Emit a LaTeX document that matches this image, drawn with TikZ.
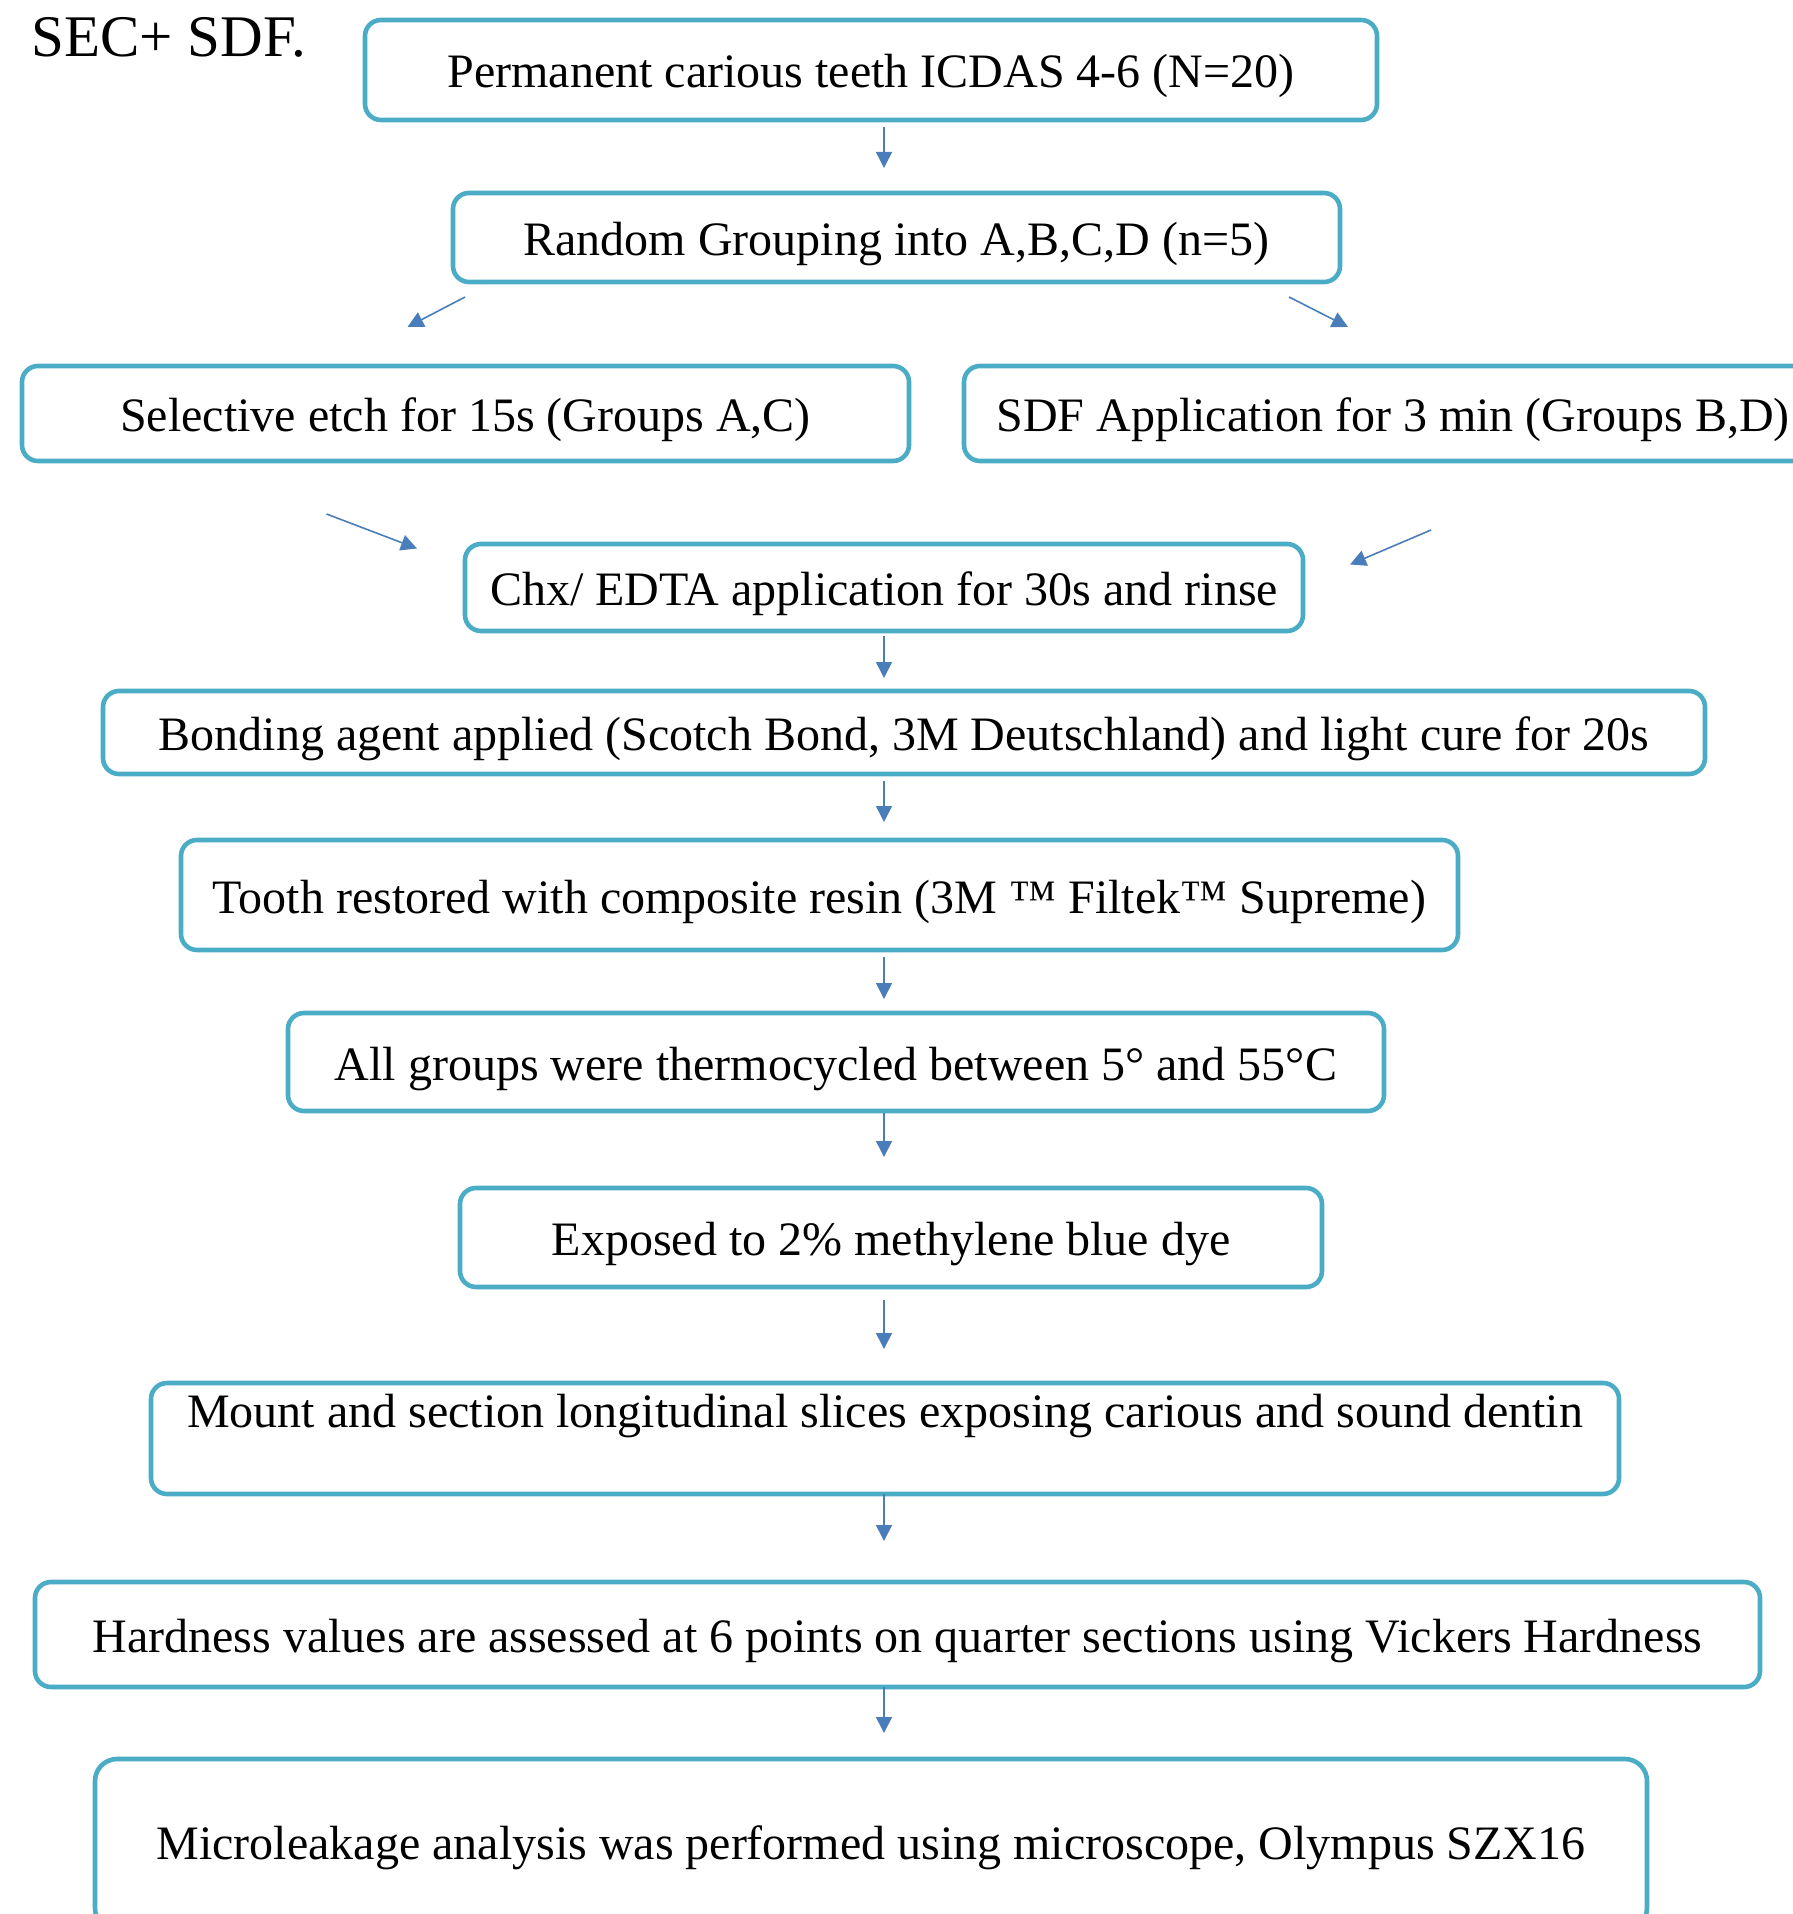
\documentclass[tikz,border=0pt]{standalone}
\usepackage{fontspec}
\setmainfont{Liberation Serif}
\usetikzlibrary{arrows.meta}

\definecolor{boxblue}{HTML}{4BACC6}
\definecolor{arrowblue}{HTML}{4A7EBB}

\tikzset{
  stage/.style={draw=boxblue, line width=2.3pt, rounded corners=8pt, fill=white,
    inner sep=0pt, outer sep=0pt, text height=20pt, text depth=2pt,
    font=\fontsize{24}{29}\selectfont},
  flow/.style={draw=arrowblue, line width=0.8pt, -{Triangle[width=8pt,length=8pt]}}
}

\begin{document}
\begin{tikzpicture}[x=0.5pt, y=-0.5pt]

	\useasboundingbox (0,0) rectangle (1792,1914);

	% Spine of the vertical arrows
	\coordinate (spine) at (884,0);

	% Title
	\node[anchor=base west, inner sep=0pt, font=\fontsize{29.5}{35}\selectfont] (title) at (31,57) {SEC+ SDF.};

	% Boxes
	\node[stage, minimum width=506pt, minimum height=50pt] (perm) at (871,70) {Permanent carious teeth ICDAS 4-6 (N=20)};
	\node[stage, minimum width=443.5pt, minimum height=44.5pt] (random) at (896.5,237.5) {Random Grouping into A,B,C,D (n=5)};
	\node[stage, minimum width=443.5pt, minimum height=47.5pt] (etch) at (465.5,413.5) {Selective etch for 15s (Groups A,C)};
	\node[stage, minimum width=429pt, minimum height=47.5pt] (sdf) at (1393,413.5) {SDF Application for 3 min (Groups B,D)};
	\node[stage, minimum width=419pt, minimum height=43.5pt] (chx) at (884,587.5) {Chx/ EDTA application for 30s and rinse};
	\node[stage, minimum width=801pt, minimum height=41.5pt] (bond) at (904,732.5) {Bonding agent applied (Scotch Bond, 3M Deutschland) and light cure for 20s};
	\node[stage, minimum width=638.5pt, minimum height=55pt] (resin) at (819.5,895) {Tooth restored with composite resin (3M ™ Filtek™ Supreme)};
	\node[stage, minimum width=548pt, minimum height=49pt] (thermo) at (836,1062) {All groups were thermocycled between 5° and 55°C};
	\node[stage, minimum width=431pt, minimum height=49.5pt] (dye) at (891,1237.5) {Exposed to 2\% methylene blue dye};
	\node[stage, minimum width=734pt, minimum height=55.5pt, text depth=31pt] (mount) at (885,1438.5) {Mount and section longitudinal slices exposing carious and sound dentin};
	\node[stage, minimum width=862.5pt, minimum height=52.5pt] (hard) at (897.5,1634.5) {Hardness values are assessed at 6 points on quarter sections using Vickers Hardness};
	\node[stage, minimum width=776pt, minimum height=85.5pt, rounded corners=11pt, text depth=5.5pt] (micro) at (871,1844.5) {Microleakage analysis was performed using microscope, Olympus SZX16};

	% Arrows
	\draw[flow, shorten <=3.5pt, shorten >=12.5pt] (perm.south -| spine) -- (random.north -| spine);
	\draw[flow] ([shift={(12,15)}]random.south west) -- ([shift={(-58,-39)}]etch.north);
	\draw[flow] ([shift={(-51,15)}]random.south east) -- ([shift={(-45,-39)}]sdf.north);
	\draw[flow] ([shift={(-139,53)}]etch.south) -- ([shift={(-48,-39)}]chx.west);
	\draw[flow] ([shift={(38,69)}]sdf.south) -- ([shift={(47,-23)}]chx.east);
	\draw[flow, shorten <=2.5pt, shorten >=6.5pt] (chx.south -| spine) -- (bond.north -| spine);
	\draw[flow, shorten <=3.5pt, shorten >=9pt] (bond.south -| spine) -- (resin.north -| spine);
	\draw[flow, shorten <=3.5pt, shorten >=7pt] (resin.south -| spine) -- (thermo.north -| spine);
	\draw[flow, shorten <=1pt, shorten >=15.5pt] (thermo.south -| spine) -- (dye.north -| spine);
	\draw[flow, shorten <=6.5pt, shorten >=17pt] (dye.south -| spine) -- (mount.north -| spine);
	\draw[flow, shorten <=0pt, shorten >=20.5pt] (mount.south -| spine) -- (hard.north -| spine);
	\draw[flow, shorten <=0pt, shorten >=13pt] (hard.south -| spine) -- (micro.north -| spine);

\end{tikzpicture}
\end{document}
